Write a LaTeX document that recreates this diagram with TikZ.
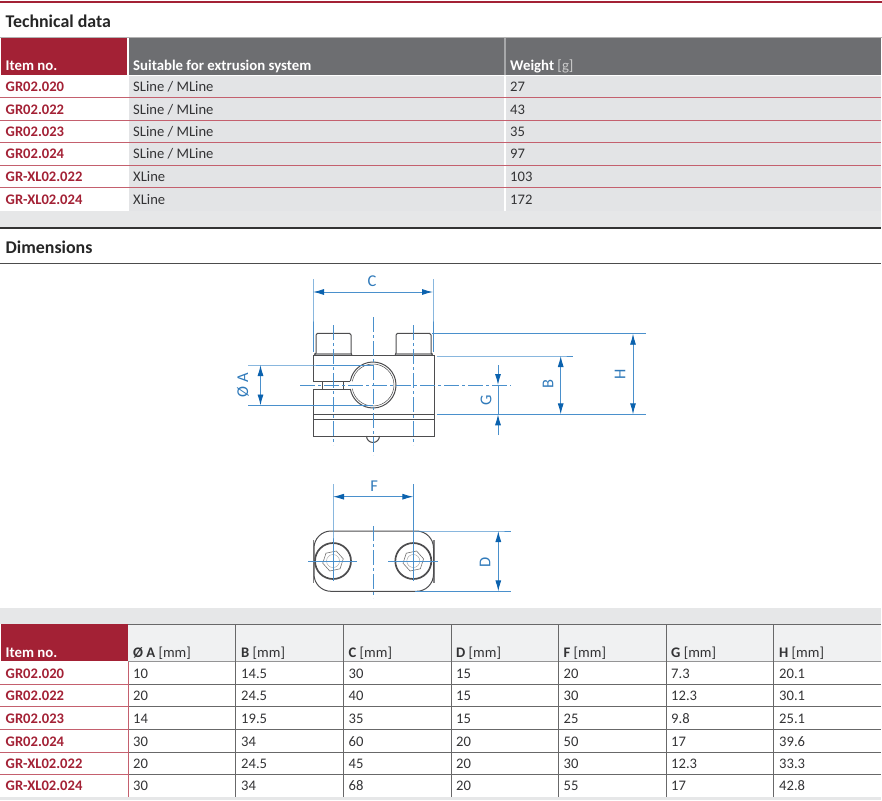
\documentclass[tikz,border=0pt]{standalone}
\usepackage{fontspec}
\setmainfont{Carlito}
\usetikzlibrary{arrows.meta,shapes.geometric}
\definecolor{itemred}{HTML}{A32135}
\definecolor{rulered}{HTML}{C4606E}
\definecolor{headgrey}{HTML}{6D6E71}
\definecolor{rowgrey}{HTML}{E3E4E6}
\definecolor{bandgrey}{HTML}{E6E7E8}
\definecolor{headlight}{HTML}{F0F1F2}
\definecolor{bodytext}{HTML}{333335}
\definecolor{dimblue}{HTML}{4A90CC}
\definecolor{tipblue}{HTML}{0B62AE}
\definecolor{partgrey}{HTML}{4D4D4F}
\tikzset{
  celltext/.style={anchor=base west, inner sep=0pt, yshift=-0.8pt, font=\fontsize{14.6}{16}\selectfont, text=bodytext},
  itemtext/.style={celltext, font=\fontsize{14.6}{16}\selectfont\bfseries, text=itemred},
  whitehead/.style={celltext, font=\fontsize{14.8}{16}\selectfont\bfseries, text=white},
  lighthead/.style={celltext, text=bodytext},
  titletext/.style={anchor=base west, inner sep=0pt, yshift=-0.8pt, font=\fontsize{17.9}{19}\selectfont\bfseries, text=black!85},
  rowrule/.style={line width=0.9pt, rulered},
  gridrule/.style={line width=1pt, partgrey!85},
  part/.style={line width=1pt, partgrey},
  centreline/.style={line width=0.9pt, dimblue, dash pattern=on 15pt off 3pt on 3pt off 3pt},
  extline/.style={line width=0.9pt, dimblue},
  dimline/.style={line width=0.9pt, dimblue, {Latex[length=11pt,width=6pt,tipblue]}-{Latex[length=11pt,width=6pt,tipblue]}},
  tipline/.style={line width=0.9pt, dimblue, -{Latex[length=11pt,width=6pt,tipblue]}},
  dimtext/.style={inner sep=0pt, text=tipblue!85, font=\fontsize{16.5}{18}\selectfont},
  bolthead/.style={circle, draw=partgrey, line width=1.7pt, minimum size=36pt, inner sep=0pt},
  boltrecess/.style={circle, draw=partgrey!55, line width=0.4pt, minimum size=13pt, inner sep=0pt},
  bolthex/.style={regular polygon, regular polygon sides=6, draw=partgrey!80, line width=0.6pt, minimum size=21pt, inner sep=0pt, shape border rotate=12}
}
\begin{document}
\begin{tikzpicture}[x=1pt,y=-1pt]
\useasboundingbox (0,0) rectangle (882,800);
% top band and first table
\fill [itemred] (0,1) rectangle (882,3.5);
\node [titletext] (titledata) at (5.5,26.5) {Technical data};
\fill [gray!60] (0,37) rectangle (882,38);
\fill [itemred] (1,38) rectangle (127,75);
\fill [headgrey] (129,38) rectangle (881,75);
\fill [rowgrey] (129,75.5) rectangle (881,210.5);
\fill [bandgrey] (0,210.5) rectangle (881,226.5);
\fill [white] (503.5,75.5) rectangle (505.5,210.5);
\fill [headgrey!60] (503.5,38) rectangle (505.5,75);
\draw [rowrule] (0,97.5) -- (881,97.5);
\draw [rowrule] (0,120) -- (881,120);
\draw [rowrule] (0,142.5) -- (881,142.5);
\draw [rowrule] (0,165) -- (881,165);
\draw [rowrule] (0,187.7) -- (881,187.7);
\draw [line width=2pt, black!80] (0,228) -- (881,228);
\node [whitehead] (headitem) at (5.5,70) {Item no.};
\node [whitehead] (headsystem) at (133,70) {Suitable for extrusion system};
\node [whitehead] (headweight) at (510,70) {Weight \mdseries\textcolor{white!80!black}{[g]}};
\node [itemtext] (a1) at (5.5,90.7) {GR02.020};
\node [celltext] (a1s) at (133,90.7) {SLine / MLine};
\node [celltext] (a1w) at (510,90.7) {27};
\node [itemtext] (a2) at (5.5,113.3) {GR02.022};
\node [celltext] (a2s) at (133,113.3) {SLine / MLine};
\node [celltext] (a2w) at (510,113.3) {43};
\node [itemtext] (a3) at (5.5,136) {GR02.023};
\node [celltext] (a3s) at (133,136) {SLine / MLine};
\node [celltext] (a3w) at (510,136) {35};
\node [itemtext] (a4) at (5.5,158) {GR02.024};
\node [celltext] (a4s) at (133,158) {SLine / MLine};
\node [celltext] (a4w) at (510,158) {97};
\node [itemtext] (a5) at (5.5,180.7) {GR-XL02.022};
\node [celltext] (a5s) at (133,180.7) {XLine};
\node [celltext] (a5w) at (510,180.7) {103};
\node [itemtext] (a6) at (5.5,203.7) {GR-XL02.024};
\node [celltext] (a6s) at (133,203.7) {XLine};
\node [celltext] (a6w) at (510,203.7) {172};
% dimensions heading
\node [titletext] (titledim) at (5.5,252.5) {Dimensions};
\draw [line width=0.9pt, black!70] (0,263.5) -- (881,263.5);
% front view
\fill [partgrey!55] (314,353) rectangle (352,355.7);
\fill [partgrey!55] (395,353) rectangle (433,355.7);
\draw [part] (314,355.7) -- (316,353) -- (316,335) -- (317.5,333.3) -- (349.5,333.3) -- (351,335) -- (351,353) -- (352,355.7);
\draw [part] (395,355.7) -- (396,353) -- (396,335) -- (397.5,333.3) -- (429.5,333.3) -- (431,335) -- (431,353) -- (433,355.7);
\draw [part] (350.35,381) -- (313,381) -- (313,355.7) -- (434,355.7) -- (434,436) -- (313,436) -- (313,389) -- (350.35,389);
\draw [part] (313,414) -- (434,414);
\draw [part] (313,419.7) -- (434,419.7);
\draw [part] (322.7,381) -- (322.7,389);
\draw [part] (343.3,381) -- (343.3,389);
\draw [part] (366.5,436) arc (180:0:6.5);
\draw [part] (350.35,381) arc (190:530:23);
\draw [line width=0.5pt, partgrey] (352.3,381.35) arc (190:530:21);
\draw [centreline] (333,325) -- (333,445);
\draw [centreline] (373,317) -- (373,455);
\draw [centreline] (413,325) -- (413,445);
\draw [centreline] (300,385) -- (511,385);
\coordinate (cleft) at (313,292);
\coordinate (cright) at (433,292);
\draw [extline] (313,279) -- (cleft) -- (313,352);
\draw [extline] (433,279) -- (cright) -- (433,352);
\draw [dimline] (cleft) -- (cright) node [dimtext, midway, above=5pt, xshift=-1pt] (labelc) {C};
\coordinate (atop) at (260.5,365);
\coordinate (abot) at (260.5,405.5);
\draw [extline] (248,365) -- (atop) -- (373,365);
\draw [extline] (248,405.5) -- (abot) -- (373,405.5);
\draw [dimline] (atop) -- (abot);
\node [dimtext, rotate=90] (labela) at (243,385) {Ø A};
\coordinate (htop) at (633,333.7);
\coordinate (hbot) at (633,414.3);
\coordinate (btop) at (560.7,356);
\coordinate (bbot) at (560.7,414.3);
\draw [extline] (432,333.7) -- (htop) -- (646,333.7);
\draw [extline] (437,356) -- (btop) -- (573,356);
\draw [extline] (437,414.3) -- (bbot) -- (hbot) -- (646,414.3);
\draw [dimline] (htop) -- (hbot);
\draw [dimline] (btop) -- (bbot);
\coordinate (gtop) at (498,365);
\coordinate (gmid) at (498,385);
\coordinate (gbot) at (498,414.3);
\coordinate (gend) at (498,435);
\draw [tipline] (gtop) -- (gmid);
\draw [tipline] (gend) -- (gbot);
\draw [extline] (gmid) -- (gbot);
\node [dimtext, rotate=90] (labelg) at (486,400) {G};
\node [dimtext, rotate=90] (labelb) at (548,384) {B};
\node [dimtext, rotate=90] (labelh) at (620,374) {H};
% top view
\fill [partgrey!70] (312.5,539.5) rectangle (314,583);
\fill [partgrey!70] (433,539.5) rectangle (434.5,583);
\draw [part, rounded corners=17pt] (314,531) rectangle (433.5,591.3);
\node [bolthead] (boltl) at (333,561) {};
\node [bolthead] (boltr) at (413.3,561) {};
\node [bolthex] (hexl) at (333,561) {};
\node [bolthex] (hexr) at (413.3,561) {};
\node [boltrecess] (recessl) at (333,561) {};
\node [boltrecess] (recessr) at (413.3,561) {};
\draw [extline] (308,561) -- (357,561);
\draw [extline] (388,561) -- (438,561);
\draw [centreline] (373,526) -- (373,598);
\coordinate (fleft) at (333,496.7);
\coordinate (fright) at (413.3,496.7);
\draw [extline] (333,484) -- (fleft) -- (333,581);
\draw [extline] (413.3,484) -- (fright) -- (413.3,581);
\draw [dimline] (fleft) -- (fright) node [dimtext, midway, above=5pt, xshift=1pt] (labelf) {F};
\coordinate (dtop) at (498.3,531);
\coordinate (dbot) at (498.3,591.3);
\draw [extline] (415,531) -- (dtop) -- (511,531);
\draw [extline] (415,591.3) -- (dbot) -- (511,591.3);
\draw [dimline] (dtop) -- (dbot);
\node [dimtext, rotate=90] (labeld) at (485,562.7) {D};
% second table
\fill [bandgrey] (0,607.5) rectangle (881,623.5);
\fill [itemred] (1,624) rectangle (128,661);
\fill [headlight] (128,624) rectangle (881,661);
\fill [bandgrey] (0,797) rectangle (881,800);
\draw [gridrule] (128,624) -- (881,624);
\draw [line width=1.3pt, partgrey!60] (128,661.5) -- (881,661.5);
\draw [rowrule] (0,684) -- (128,684);
\draw [rowrule] (0,706.7) -- (128,706.7);
\draw [rowrule] (0,729.3) -- (128,729.3);
\draw [rowrule] (0,752) -- (128,752);
\draw [rowrule] (0,774.3) -- (128,774.3);
\draw [gridrule] (128,684) -- (881,684);
\draw [gridrule] (128,706.7) -- (881,706.7);
\draw [gridrule] (128,729.3) -- (881,729.3);
\draw [gridrule] (128,752) -- (881,752);
\draw [gridrule] (128,774.3) -- (881,774.3);
\draw [rowrule] (128,661.5) -- (128,797);
\draw [gridrule] (235.5,624) -- (235.5,797);
\draw [gridrule] (343,624) -- (343,797);
\draw [gridrule] (451,624) -- (451,797);
\draw [gridrule] (558.5,624) -- (558.5,797);
\draw [gridrule] (666,624) -- (666,797);
\draw [gridrule] (773.5,624) -- (773.5,797);
\node [whitehead] (tabitem) at (5.5,656.7) {Item no.};
\node [lighthead] (taba) at (133,656.7) {\textbf{Ø A} [mm]};
\node [lighthead] (tabb) at (241,656.7) {\textbf{B} [mm]};
\node [lighthead] (tabc) at (348.5,656.7) {\textbf{C} [mm]};
\node [lighthead] (tabd) at (456,656.7) {\textbf{D} [mm]};
\node [lighthead] (tabf) at (563.5,656.7) {\textbf{F} [mm]};
\node [lighthead] (tabg) at (671,656.7) {\textbf{G} [mm]};
\node [lighthead] (tabh) at (779,656.7) {\textbf{H} [mm]};
\node [itemtext] (r1) at (5.5,677.3) {GR02.020};
\node [celltext] (r1a) at (133,677.3) {10};
\node [celltext] (r1b) at (241,677.3) {14.5};
\node [celltext] (r1c) at (348.5,677.3) {30};
\node [celltext] (r1d) at (456,677.3) {15};
\node [celltext] (r1f) at (563.5,677.3) {20};
\node [celltext] (r1g) at (671,677.3) {7.3};
\node [celltext] (r1h) at (779,677.3) {20.1};
\node [itemtext] (r2) at (5.5,700) {GR02.022};
\node [celltext] (r2a) at (133,700) {20};
\node [celltext] (r2b) at (241,700) {24.5};
\node [celltext] (r2c) at (348.5,700) {40};
\node [celltext] (r2d) at (456,700) {15};
\node [celltext] (r2f) at (563.5,700) {30};
\node [celltext] (r2g) at (671,700) {12.3};
\node [celltext] (r2h) at (779,700) {30.1};
\node [itemtext] (r3) at (5.5,722.7) {GR02.023};
\node [celltext] (r3a) at (133,722.7) {14};
\node [celltext] (r3b) at (241,722.7) {19.5};
\node [celltext] (r3c) at (348.5,722.7) {35};
\node [celltext] (r3d) at (456,722.7) {15};
\node [celltext] (r3f) at (563.5,722.7) {25};
\node [celltext] (r3g) at (671,722.7) {9.8};
\node [celltext] (r3h) at (779,722.7) {25.1};
\node [itemtext] (r4) at (5.5,745.3) {GR02.024};
\node [celltext] (r4a) at (133,745.3) {30};
\node [celltext] (r4b) at (241,745.3) {34};
\node [celltext] (r4c) at (348.5,745.3) {60};
\node [celltext] (r4d) at (456,745.3) {20};
\node [celltext] (r4f) at (563.5,745.3) {50};
\node [celltext] (r4g) at (671,745.3) {17};
\node [celltext] (r4h) at (779,745.3) {39.6};
\node [itemtext] (r5) at (5.5,768) {GR-XL02.022};
\node [celltext] (r5a) at (133,768) {20};
\node [celltext] (r5b) at (241,768) {24.5};
\node [celltext] (r5c) at (348.5,768) {45};
\node [celltext] (r5d) at (456,768) {20};
\node [celltext] (r5f) at (563.5,768) {30};
\node [celltext] (r5g) at (671,768) {12.3};
\node [celltext] (r5h) at (779,768) {33.3};
\node [itemtext] (r6) at (5.5,790) {GR-XL02.024};
\node [celltext] (r6a) at (133,790) {30};
\node [celltext] (r6b) at (241,790) {34};
\node [celltext] (r6c) at (348.5,790) {68};
\node [celltext] (r6d) at (456,790) {20};
\node [celltext] (r6f) at (563.5,790) {55};
\node [celltext] (r6g) at (671,790) {17};
\node [celltext] (r6h) at (779,790) {42.8};
\end{tikzpicture}
\end{document}
